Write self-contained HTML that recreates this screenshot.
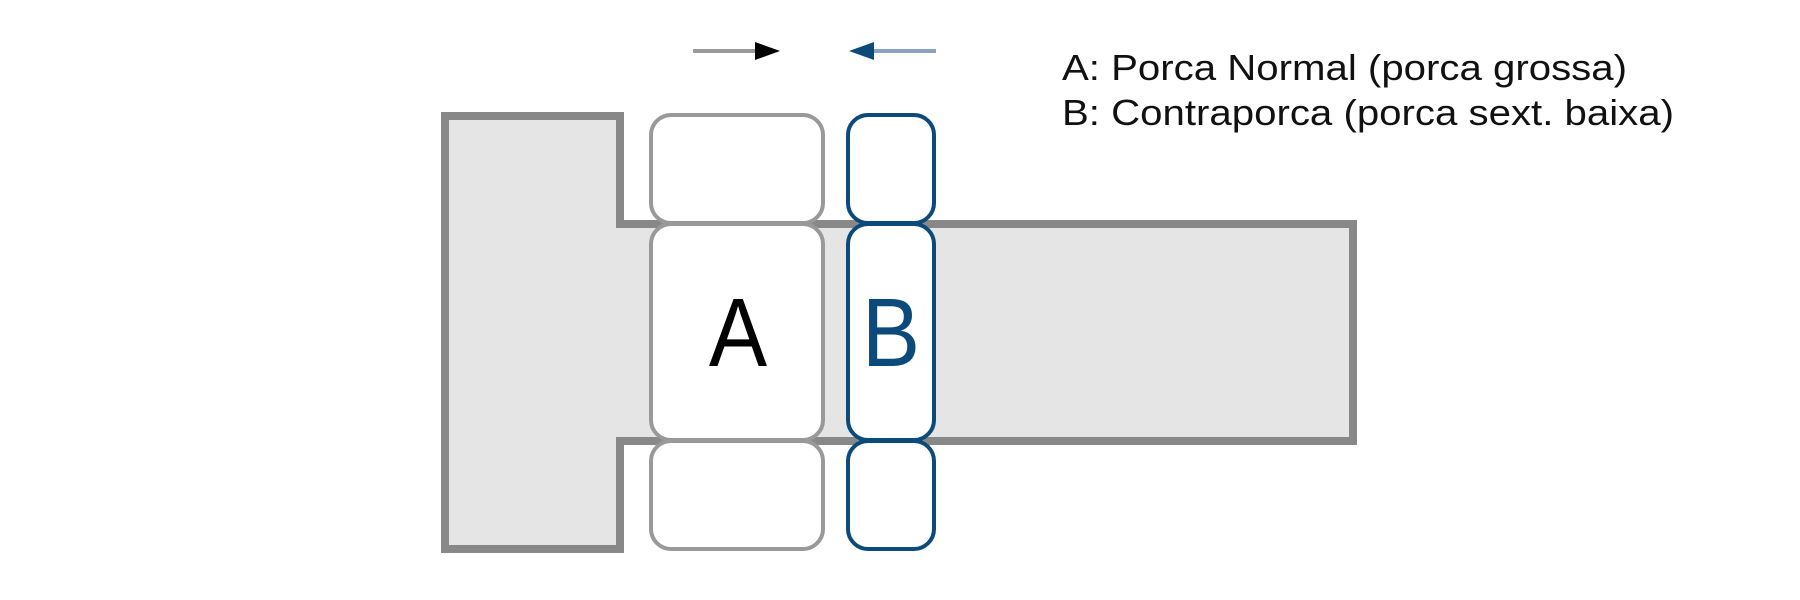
<!DOCTYPE html>
<html><head><meta charset="utf-8"><style>html,body{margin:0;padding:0;background:#fff}svg{display:block}</style></head>
<body>
<svg width="1800" height="600" viewBox="0 0 1800 600" xmlns="http://www.w3.org/2000/svg">
<path d="M445,116 L620,116 L620,224 L1353,224 L1353,441 L620,441 L620,549 L445,549 Z" fill="#e5e5e5" stroke="#888" stroke-width="8"/>
<g fill="#fff" stroke="#999" stroke-width="4">
<rect x="651" y="115" width="172" height="108" rx="20"/>
<rect x="651" y="224" width="172" height="216" rx="20"/>
<rect x="651" y="441" width="172" height="108" rx="20"/>
</g>
<g fill="#fff" stroke="#0b4a7a" stroke-width="4">
<rect x="848" y="115" width="86" height="108" rx="20"/>
<rect x="848" y="224" width="86" height="216" rx="20"/>
<rect x="848" y="441" width="86" height="108" rx="20"/>
</g>
<line x1="693" y1="51" x2="770" y2="51" stroke="#999" stroke-width="4"/>
<path d="M755,42 L780,51 L755,60 Z" fill="#000"/>
<line x1="870" y1="51" x2="936" y2="51" stroke="#8aa3bd" stroke-width="4"/>
<path d="M874,42 L849,51 L874,60 Z" fill="#0b4a7a"/>
<text x="738" y="366" font-family="Liberation Sans, sans-serif" font-size="97" text-anchor="middle" fill="#000" transform="translate(738,0) scale(0.9,1) translate(-738,0)">A</text>
<text x="891" y="366" font-family="Liberation Sans, sans-serif" font-size="97" text-anchor="middle" fill="#0b4a7a" transform="translate(891,0) scale(0.9,1) translate(-891,0)">B</text>
<text x="1062" y="80" font-family="Liberation Sans, sans-serif" font-size="36" fill="#111" textLength="565" lengthAdjust="spacingAndGlyphs">A: Porca Normal (porca grossa)</text>
<text x="1062" y="125" font-family="Liberation Sans, sans-serif" font-size="36" fill="#111" textLength="612" lengthAdjust="spacingAndGlyphs">B: Contraporca (porca sext. baixa)</text>
</svg>
</body></html>
